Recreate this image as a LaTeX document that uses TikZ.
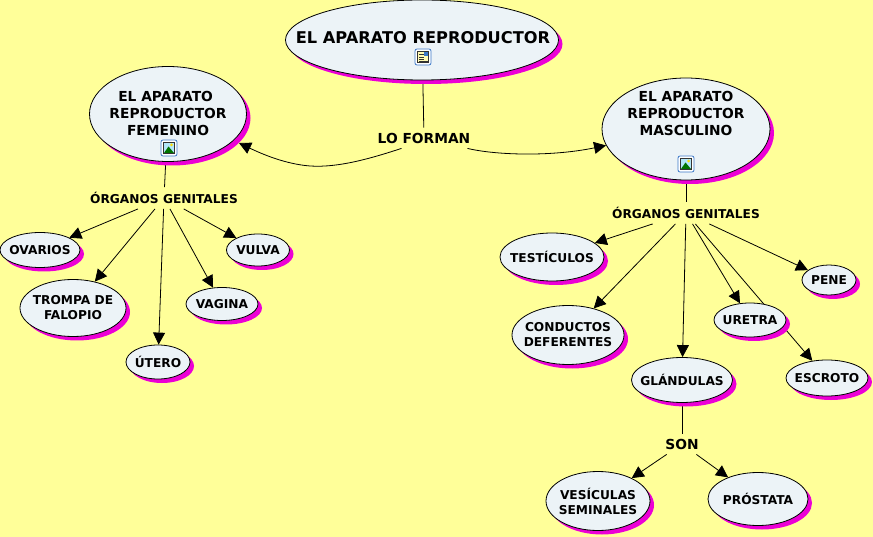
\documentclass[tikz,border=0pt]{standalone}
\usepackage{fontspec}
\setmainfont{DejaVu Sans}
\usepackage{xcolor}
\usetikzlibrary{
  shapes.geometric,
  arrows.meta,
  positioning,
  shadows,
  backgrounds,
  calc
}
\definecolor{mapyellow}{RGB}{255,255,153}
\definecolor{bubblefill}{RGB}{236,243,247}
\definecolor{shadepink}{RGB}{236,0,214}
\definecolor{iconblue}{RGB}{60,120,200}

\newcommand{\fontsmall}{\fontsize{12.2}{15}\selectfont\bfseries}
\newcommand{\fontmid}{\fontsize{13.8}{17}\selectfont\bfseries}
\newcommand{\fonttop}{\fontsize{16.2}{20}\selectfont\bfseries}

\begin{document}
\begin{tikzpicture}[
  x=1pt, y=-1pt,
  bubble/.style={ellipse, draw=black, fill=bubblefill, line width=0.8pt, inner sep=0pt,
    drop shadow={shadow xshift=4pt, shadow yshift=-4pt, fill=shadepink, opacity=1}},
  txt/.style={align=center, inner sep=0pt, font=\fontsmall},
  txtmid/.style={txt, font=\fontmid},
  link/.style={font=\fontsmall, inner xsep=3pt, inner ysep=5pt},
  linkbig/.style={font=\fontmid, inner xsep=3pt, inner ysep=5pt},
  ptr/.style={-{Triangle[length=12pt,width=12pt]}, line width=0.8pt},
  plain/.style={line width=0.8pt},
  icon/.style={draw=iconblue, fill=white, line width=0.8pt, rounded corners=2pt, minimum size=16pt, inner sep=0pt}
]
  \useasboundingbox (0,0) rectangle (873,537);
  % main bubbles
  \node[bubble, minimum width=273pt, minimum height=80pt, label={[txt, font=\fonttop, yshift=2pt, xshift=1pt]center:{EL APARATO REPRODUCTOR}}] (top) at (422,40) {};
  \node[bubble, minimum width=157pt, minimum height=95pt, label={[txtmid, yshift=1pt]center:{EL APARATO~~\\REPRODUCTOR\\FEMENINO}}] (fem) at (168,114) {};
  \node[bubble, minimum width=168pt, minimum height=102pt, label={[txtmid, yshift=16pt]center:{EL APARATO\\REPRODUCTOR\\MASCULINO}}] (masc) at (686,129) {};
  \coordinate (femtip) at (239,143);

  % link words
  \node[linkbig] (forman) at (424,138) {LO FORMAN};
  \node[link] (orgf) at (164,198) {ÓRGANOS GENITALES};
  \node[link] (orgm) at (686,213) {ÓRGANOS GENITALES};
  \node[linkbig] (son) at (682,444) {SON};

  % female side
  \node[bubble, minimum width=80pt, minimum height=35pt, label={[txt]center:{OVARIOS}}] (ovarios) at (40,250) {};
  \node[bubble, minimum width=106pt, minimum height=57pt, label={[txt]center:{TROMPA DE\\FALOPIO}}] (trompa) at (73,308) {};
  \node[bubble, minimum width=64pt, minimum height=34pt, label={[txt]center:{ÚTERO}}] (utero) at (158,362) {};
  \node[bubble, minimum width=72pt, minimum height=33pt, label={[txt]center:{VAGINA}}] (vagina) at (222,304) {};
  \node[bubble, minimum width=63pt, minimum height=32pt, label={[txt]center:{VULVA}}] (vulva) at (258,250) {};

  % male side
  \node[bubble, minimum width=104pt, minimum height=48pt, label={[txt]center:{TESTÍCULOS}}] (testiculos) at (552,257) {};
  \node[bubble, minimum width=112pt, minimum height=59pt, label={[txt]center:{CONDUCTOS\\DEFERENTES}}] (conductos) at (568,335) {};
  \node[bubble, minimum width=101pt, minimum height=45pt, label={[txt]center:{GLÁNDULAS}}] (glandulas) at (682,380) {};
  \node[bubble, minimum width=72pt, minimum height=34pt, label={[txt]center:{URETRA}}] (uretra) at (750,320) {};
  \node[bubble, minimum width=82pt, minimum height=36pt, label={[txt]center:{ESCROTO}}] (escroto) at (827,378) {};
  \node[bubble, minimum width=54pt, minimum height=30pt, label={[txt]center:{PENE}}] (pene) at (829,280) {};
  \node[bubble, minimum width=104pt, minimum height=59pt, label={[txt]center:{VESÍCULAS\\SEMINALES}}] (vesiculas) at (598,501) {};
  \node[bubble, minimum width=100pt, minimum height=53pt, label={[txt]center:{PRÓSTATA}}] (prostata) at (758,499) {};

  % icons
  \node[icon] (icondoc) at (423,57) {};
  \fill[fill=yellow!30, draw=black!80] ($(icondoc)+(-5.5,-5.5)$) rectangle ($(icondoc)+(5.5,5.5)$);
  \fill[iconblue] ($(icondoc)+(1,-5)$) rectangle ($(icondoc)+(5,-1)$);
  \foreach \j in {-2.5,0,2.5} {
    \draw[black!80, line width=0.6pt] ($(icondoc)+(-4,\j)$) -- ($(icondoc)+(0.5,\j)$);
  }
  \draw[black!80, line width=0.6pt] ($(icondoc)+(-4,4)$) -- ($(icondoc)+(4.5,4)$);
  \foreach \name/\px/\py in {iconfem/169/148, iconmasc/686/164} {
    \node[icon] (\name) at (\px,\py) {};
    \fill[fill=cyan!30, draw=black!80] ($(\name)+(-5.5,-5.5)$) rectangle ($(\name)+(5.5,5.5)$);
    \fill[yellow!80!orange] ($(\name)+(2.5,-3)$) circle (1.5pt);
    \fill[green!45!black] ($(\name)+(-5,5)$) -- ($(\name)+(-0.5,-1.5)$) -- ($(\name)+(5,5)$) -- cycle;
  }

  % everything behind the bubbles
  \begin{scope}[on background layer]
    \fill[mapyellow] (0,0) rectangle (873,537);
    \draw[plain] (top) -- (forman);
    \draw[ptr] (forman.south west) ++(27,0) .. controls (375,157) and (340,168) .. (310,166) .. controls (285,164) and (262,154) .. (femtip);
    \draw[ptr] (forman.south east) ++(-6,0) .. controls (495,155) and (550,157) .. (masc);
    \draw[plain] (fem) -- (orgf);
    \draw[plain] (masc) -- (orgm);
    \foreach \to in {ovarios,trompa,utero,vagina,vulva} {
      \draw[ptr] (orgf) -- (\to);
    }
    \foreach \to in {testiculos,conductos,glandulas,uretra,escroto,pene} {
      \draw[ptr] (orgm) -- (\to);
    }
    \draw[plain] (glandulas) -- (son);
    \draw[ptr] (son) -- (vesiculas);
    \draw[ptr] (son) -- (prostata);
  \end{scope}
\end{tikzpicture}
\end{document}
